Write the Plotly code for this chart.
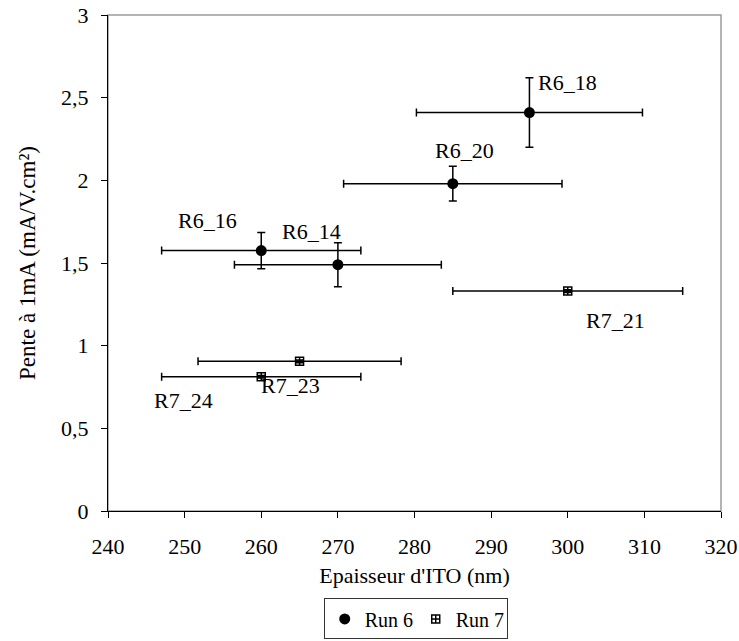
import plotly.graph_objects as go

# ---- data ----
run6_names = ["R6_16", "R6_14", "R6_20", "R6_18"]
run6_x = [260, 270, 285, 295]
run6_y = [1.575, 1.49, 1.98, 2.41]
run6_xerr = [13, 13.5, 14.25, 14.75]
run6_yerr = [0.11, 0.133, 0.105, 0.21]

run7_names = ["R7_21", "R7_23", "R7_24"]
run7_x = [300, 265, 260]
run7_y = [1.33, 0.905, 0.812]
run7_xerr = [15, 13.25, 13]
run7_yerr = [0.008, 0.008, 0.008]

# label offsets in pixels (dx, dy screen-down)
label_offsets = {
    "R6_16": (-54, -30), "R6_14": (-26, -33), "R6_20": (12, -33), "R6_18": (38, -30),
    "R7_21": (48, 29), "R7_23": (-9, 24), "R7_24": (-78, 24),
}

x_ticks = [240, 250, 260, 270, 280, 290, 300, 310, 320]
y_ticks = [0, 0.5, 1, 1.5, 2, 2.5, 3]

FONT = "Liberation Serif"
FS = 22

fig = go.Figure()

err_style = dict(color="black", thickness=1.5, width=4)

fig.add_trace(go.Scatter(
    x=run6_x, y=run6_y, mode="markers", name="Run 6",
    marker=dict(symbol="circle", size=11, color="black"),
    error_x=dict(type="data", array=run6_xerr, visible=True, **err_style),
    error_y=dict(type="data", array=run6_yerr, visible=True, **err_style),
))
fig.add_trace(go.Scatter(
    x=run7_x, y=run7_y, mode="markers", name="Run 7",
    marker=dict(symbol="square-cross-open", size=8, color="black", line=dict(width=1.5, color="black")),
    error_x=dict(type="data", array=run7_xerr, visible=True, **err_style),
    error_y=dict(type="data", array=run7_yerr, visible=True, **err_style),
))

for names, xs, ys in [(run6_names, run6_x, run6_y), (run7_names, run7_x, run7_y)]:
    for n, xv, yv in zip(names, xs, ys):
        dx, dy = label_offsets[n]
        fig.add_annotation(x=xv, y=yv, text=n, showarrow=False, xshift=dx, yshift=-dy,
                           font=dict(family=FONT, size=FS, color="black"))

# gray frame (top / right)
fig.add_shape(type="rect", xref="x domain", yref="y domain", x0=0, x1=1, y0=0, y1=1,
              line=dict(color="#9a9a9a", width=1.5), layer="below")

fig.update_layout(
    width=739, height=641,
    margin=dict(l=108, r=18, t=15, b=130, autoexpand=False),
    paper_bgcolor="white", plot_bgcolor="white",
    font=dict(family=FONT, size=FS, color="black"),
    separators=", ",
    showlegend=True,
    legend=dict(orientation="h", x=0.502, xanchor="center", y=-0.259, yanchor="bottom",
                bordercolor="#333333", borderwidth=1, bgcolor="white",
                font=dict(family=FONT, size=20, color="black"), itemwidth=30,
                entrywidth=46, entrywidthmode="pixels", tracegroupgap=0),
)
fig.update_xaxes(range=[240, 320], tickvals=x_ticks, showgrid=False, zeroline=False,
                 automargin=False,
                 showline=True, linecolor="black", linewidth=1.3,
                 ticks="outside", ticklen=6, tickwidth=1.3, tickcolor="black",
                 ticklabelstandoff=9,
                 tickfont=dict(family=FONT, size=FS, color="black"),
                 title=dict(text="Epaisseur d'ITO (nm)", standoff=10,
                            font=dict(family=FONT, size=FS, color="black")))
fig.update_yaxes(range=[0, 3], tickvals=y_ticks, showgrid=False, zeroline=False,
                 automargin=False,
                 showline=True, linecolor="black", linewidth=1.3,
                 ticks="outside", ticklen=6, tickwidth=1.3, tickcolor="black",
                 ticklabelstandoff=8,
                 tickfont=dict(family=FONT, size=FS, color="black"),
                 title=dict(text="Pente à 1mA (mA/V.cm²)", standoff=18,
                            font=dict(family=FONT, size=23, color="black")))

fig.write_html("out.html", post_script="document.body.style.margin='0';",
               config={"displayModeBar": False})
